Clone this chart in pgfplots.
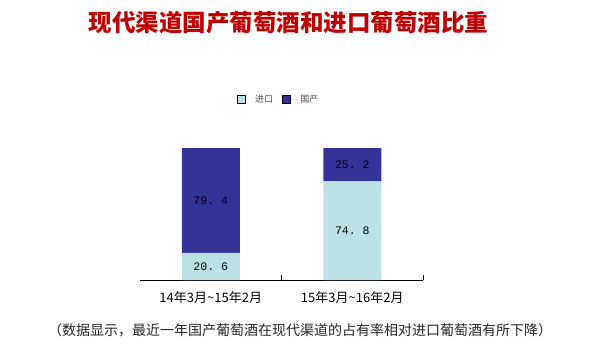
\documentclass[border=0pt]{standalone}
\usepackage{pgfplots}
\pgfplotsset{compat=1.18}
\usepackage{pgfplotstable}
\usepackage{fontspec}
\setmainfont{Noto Sans CJK SC}
\newfontfamily\monofont{Liberation Mono}
\definecolor{impc}{RGB}{187,225,228}
\definecolor{domc}{RGB}{51,51,153}
\definecolor{titlered}{RGB}{192,0,0}
\pgfplotstableread{
x imp dom
0 20.6 79.4
1 74.8 25.2
}\datatable
\begin{document}
\begin{tikzpicture}
\useasboundingbox (0,0) rectangle (594pt,360pt);
\begin{axis}[
  at={(140pt,80pt)}, anchor=south west,
  scale only axis, width=283pt, height=132pt,
  xmin=-0.5, xmax=1.5, ymin=0, ymax=100,
  ybar stacked, bar width=58pt,
  axis y line=none, axis x line*=bottom,
  axis line style={black, line width=0.8pt},
  xtick={0,1},
  xticklabels={14年3月\textasciitilde 15年2月, 15年3月\textasciitilde 16年2月},
  major tick length=5pt, tick align=inside,
  tick style={draw=none},
  extra x ticks={0.5,1.5}, extra x tick labels={},
  extra x tick style={tick style={draw=black, line width=0.8pt}},
  xticklabel style={font=\fontsize{13}{15}\selectfont, yshift=-8pt},
  nodes near coords={\pgfmathprintnumber[fixed, fixed zerofill, precision=1, dec sep={.\ }, assume math mode=true]{\pgfplotspointmeta}},
  every node near coord/.append style={font=\monofont\fontsize{11.5}{13}\selectfont, text=black, anchor=center},
  legend style={at={(0.49,1.37)}, anchor=center, draw=none, fill=none, legend columns=2,
    font=\fontsize{9}{10}\selectfont, text=black!70,
    nodes={inner xsep=2pt},
    /tikz/every even column/.append style={column sep=7pt}},
  legend image code/.code={\draw[#1, draw=black, line width=0.4pt] (0pt,-4pt) rectangle (8pt,4pt); \path (8pt,0pt) -- (16pt,0pt);},
  clip=false,
]
\addplot[fill=impc, draw=none] table[x=x, y=imp] {\datatable};
\addlegendentry{进口}
\addplot[fill=domc, draw=none] table[x=x, y=dom] {\datatable};
\addlegendentry{国产}
\end{axis}
\node[font=\bfseries\fontsize{23.5}{28}\selectfont, text=titlered] at (288.5pt,337pt) {现代渠道国产葡萄酒和进口葡萄酒比重};
\node[font=\fontsize{14}{16}\selectfont, text=black!85] at (300pt,30pt) {（数据显示，最近一年国产葡萄酒在现代渠道的占有率相对进口葡萄酒有所下降）};
\end{tikzpicture}
\end{document}
